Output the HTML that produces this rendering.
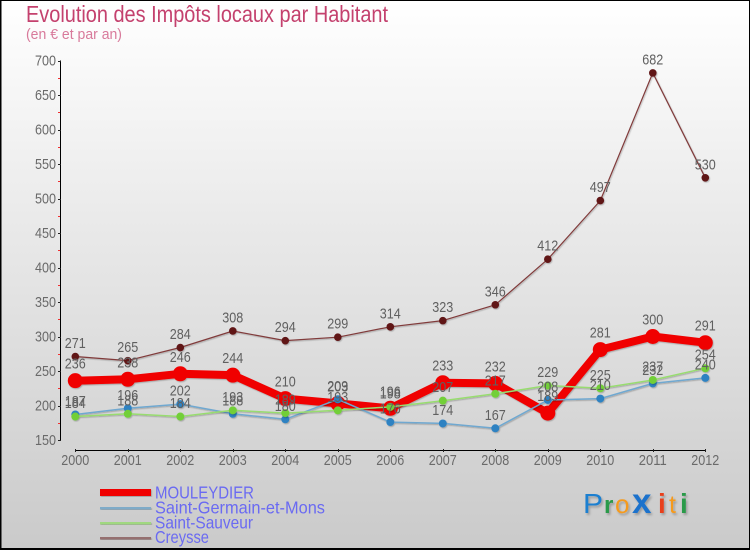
<!DOCTYPE html>
<html lang="fr">
<head>
<meta charset="utf-8">
<title>Evolution des Impôts locaux par Habitant</title>
<style>
html,body{margin:0;padding:0;width:750px;height:550px;overflow:hidden;background:#fff}
svg{display:block;font-family:"Liberation Sans",sans-serif}
</style>
</head>
<body>
<svg id="chart" xmlns="http://www.w3.org/2000/svg" width="750" height="550" viewBox="0 0 750 550">
  <defs>
    <linearGradient id="bgGrad" x1="0" y1="0" x2="0" y2="1">
      <stop offset="0" stop-color="#ffffff"/>
      <stop offset="1" stop-color="#cacaca"/>
    </linearGradient>
    <filter id="softShadow" x="-10%" y="-10%" width="120%" height="120%">
      <feDropShadow dx="0.8" dy="1" stdDeviation="0.6" flood-color="#000" flood-opacity="0.25"/>
    </filter>
    <filter id="logoShadow" x="-10%" y="-10%" width="120%" height="130%">
      <feDropShadow dx="1.5" dy="2" stdDeviation="1" flood-color="#000" flood-opacity="0.25"/>
    </filter>
  </defs>
  <rect x="0.5" y="0.5" width="749" height="549" fill="url(#bgGrad)" stroke="#000" stroke-width="1"/>
  <rect x="0" y="548" width="750" height="2" fill="#000"/>
  <rect x="0" y="0" width="1.5" height="550" fill="#000"/>
  <text x="26" y="22" font-size="23.5" fill="#c4416e" textLength="362" lengthAdjust="spacingAndGlyphs">Evolution des Impôts locaux par Habitant</text>
  <text x="26" y="39" font-size="14.5" fill="#d87a9b" textLength="96" lengthAdjust="spacingAndGlyphs">(en € et par an)</text>
  <g id="axes"></g>
  <g id="series"></g>
  <g id="labels"></g>

  <g>
    <rect x="100" y="489" width="51" height="7" fill="#f00000" filter="url(#softShadow)"/>
    <text x="155" y="498.5" font-size="17.5" fill="#6a6af2" textLength="99" lengthAdjust="spacingAndGlyphs">MOULEYDIER</text>
    <rect x="100" y="507" width="51" height="2.5" fill="#7fabc8" filter="url(#softShadow)"/>
    <text x="155" y="513.5" font-size="17.5" fill="#6a6af2" textLength="170" lengthAdjust="spacingAndGlyphs">Saint-Germain-et-Mons</text>
    <rect x="100" y="522" width="51" height="2.5" fill="#a0d880" filter="url(#softShadow)"/>
    <text x="155" y="528.5" font-size="17.5" fill="#6a6af2" textLength="98" lengthAdjust="spacingAndGlyphs">Saint-Sauveur</text>
    <rect x="100" y="537" width="51" height="2.5" fill="#957070" filter="url(#softShadow)"/>
    <text x="155" y="543" font-size="17.5" fill="#6a6af2" textLength="54" lengthAdjust="spacingAndGlyphs">Creysse</text>
  </g>

  <g font-size="28" filter="url(#logoShadow)">
    <text x="583" y="513" fill="#1a7fd0" textLength="20" lengthAdjust="spacingAndGlyphs">P</text>
    <text x="604" y="513" fill="#2a9a4a" font-size="24" font-weight="bold">r</text>
    <text x="615" y="513" fill="#f59a1e" font-size="26">o</text>
    <text x="632" y="513" fill="#1a72cc" font-size="35" font-weight="bold">x</text>
    <text x="658" y="513" fill="#e8401c" font-weight="bold">i</text>
    <text x="669" y="513" fill="#f59a1e" font-size="25">t</text>
    <text x="680" y="513" fill="#2a9a4a" font-weight="bold">i</text>
  </g>
</svg>
<script>
const years = [2000,2001,2002,2003,2004,2005,2006,2007,2008,2009,2010,2011,2012];
const yTickValues = [150,200,250,300,350,400,450,500,550,600,650,700];
const yMinorValues = [175,225,275,325,375,425,475,525,575,625,675];
const mouleydier = [236,238,246,244,210,203,196,233,232,189,281,300,291];
const saintGermain = [187,196,202,188,180,209,176,174,167,208,210,232,240];
const saintSauveur = [184,188,184,193,189,193,198,207,217,229,225,237,254];
const creysse = [271,265,284,308,294,299,314,323,346,412,497,682,530];

const NS = 'http://www.w3.org/2000/svg';
const xOf = i => 75.3 + i * 52.5;
const yOf = v => 440 - (v - 150) * 0.69;

function make(parent, tag, attrs, text) {
  const el = document.createElementNS(NS, tag);
  for (const k in attrs) el.setAttribute(k, attrs[k]);
  if (text !== undefined) el.textContent = text;
  parent.appendChild(el);
  return el;
}

const axes = document.getElementById('axes');
const seriesGroup = document.getElementById('series');
const labelsGroup = document.getElementById('labels');

const yLine = make(axes, 'line', {x1:60.5, x2:60.5, y1:yOf(700), y2:yOf(150), stroke:'#000', 'stroke-width':1});


const xLine = make(axes, 'line', {x1:xOf(0), x2:xOf(years.length - 1), y1:450.5, y2:450.5, stroke:'#000', 'stroke-width':1});



yTickValues.forEach(v => {
  const y = Math.round(yOf(v)) + 0.5;
  const t = make(axes, 'line', {x1:58, x2:61, y1:y, y2:y, stroke:'#222', 'stroke-width':1});
  
  
  const s = String(v);
  const l = make(axes, 'text', {x:56, y:yOf(v) + 5, 'text-anchor':'end', 'font-size':15, fill:'#6a6a6a', textLength:s.length * 7, lengthAdjust:'spacingAndGlyphs'}, s);
  
  
});
yMinorValues.forEach(v => {
  const y = Math.round(yOf(v)) + 0.5;
  const t = make(axes, 'line', {x1:58, x2:60, y1:y, y2:y, stroke:'#f03030', 'stroke-width':1});
  
  
});
years.forEach((yr, i) => {
  const x = Math.round(xOf(i)) + 0.5;
  const t = make(axes, 'line', {x1:x, x2:x, y1:449, y2:452, stroke:'#222', 'stroke-width':1});
  
  
  const s = String(yr);
  const l = make(axes, 'text', {x:xOf(i), y:465, 'text-anchor':'middle', 'font-size':15, fill:'#6a6a6a', textLength:s.length * 7, lengthAdjust:'spacingAndGlyphs'}, s);
  
  
});

function drawSeries(name, values, lineColor, markerColor, width, radius, labelGap) {
  const g = make(seriesGroup, 'g', {filter:'url(#softShadow)'});
  
  
  const pts = values.map((v, i) => xOf(i).toFixed(1) + ',' + yOf(v).toFixed(1)).join(' ');
  const line = make(g, 'polyline', {points:pts, fill:'none', stroke:lineColor, 'stroke-width':width, 'stroke-linejoin':'round'});
  
  
  values.forEach((v, i) => {
    const c = make(g, 'circle', {cx:xOf(i), cy:yOf(v), r:radius, fill:markerColor});
    
    
    const s = String(v);
    const t = make(labelsGroup, 'text', {x:xOf(i), y:yOf(v) - labelGap, 'text-anchor':'middle', 'font-size':15, fill:'#606060', textLength:s.length * 7, lengthAdjust:'spacingAndGlyphs'}, s);
    
    
  });
}

drawSeries('mouleydier', mouleydier, '#f00000', '#f00000', 8, 7.5, 12);
drawSeries('saint-germain', saintGermain, '#6fa8d0', '#2f82c2', 1.5, 4, 8.5);
drawSeries('saint-sauveur', saintSauveur, '#98dc70', '#72cf38', 1.5, 4, 8.5);
drawSeries('creysse', creysse, '#803a3a', '#601418', 1.2, 3.8, 8.5);
</script>
</body>
</html>
